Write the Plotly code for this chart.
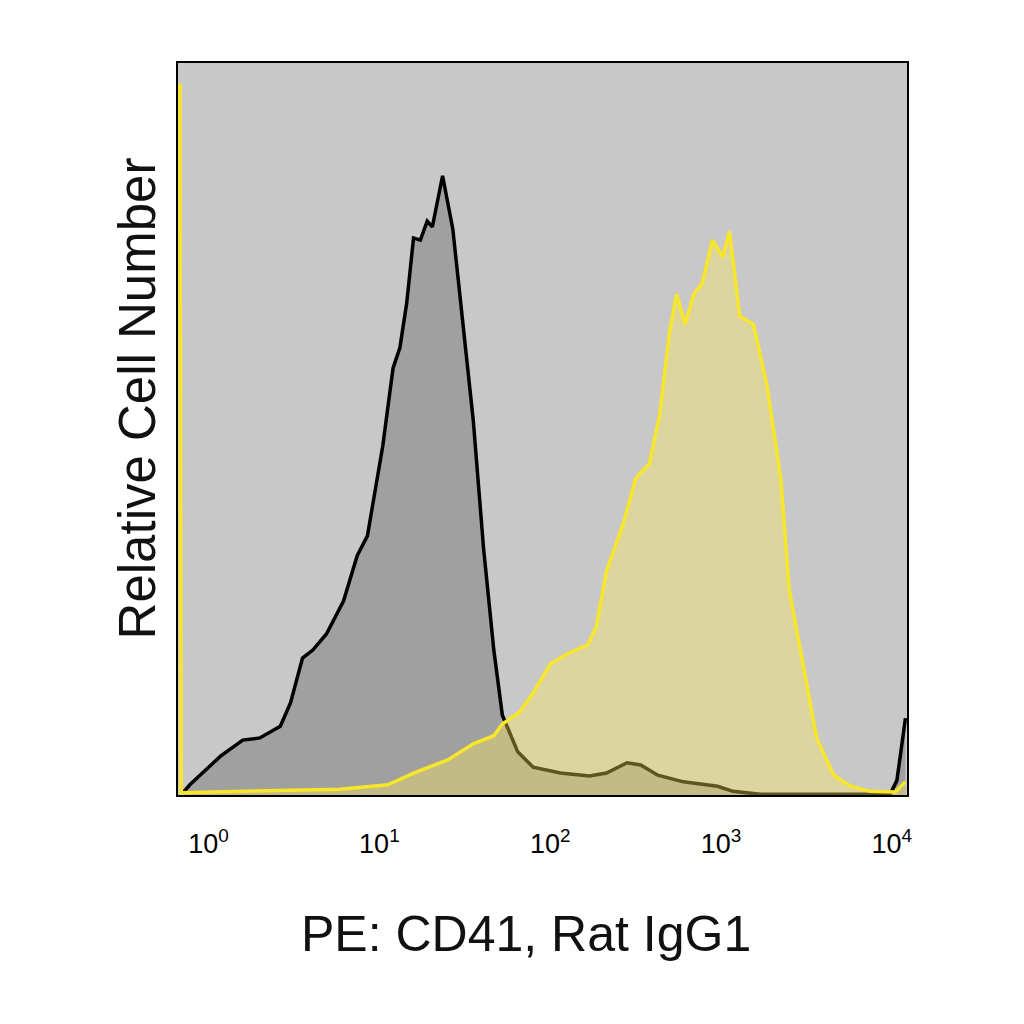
import plotly.graph_objects as go
import numpy as np

# log10 fluorescence positions and relative counts (% of axis height)
black_log = [-0.15, -0.11, 0.07, 0.20, 0.30, 0.42, 0.48, 0.55, 0.61, 0.69, 0.79, 0.87, 0.93,
             0.96, 1.02, 1.08, 1.12, 1.16, 1.20, 1.24, 1.28, 1.31, 1.37, 1.43, 1.49, 1.55,
             1.61, 1.67, 1.72, 1.81, 1.90, 2.06, 2.23, 2.33, 2.45, 2.53, 2.63, 2.78, 2.98,
             3.07, 3.23, 3.99, 4.03, 4.08]
black_count = [0.3, 1.4, 5.3, 7.5, 7.8, 9.4, 12.6, 18.7, 19.8, 22.0, 26.5, 32.7, 35.4,
               39.3, 47.7, 58.3, 61.1, 67.2, 76.1, 75.8, 78.4, 77.6, 84.6, 77.3, 64.5, 51.1,
               33.7, 19.8, 10.9, 5.9, 3.8, 3.0, 2.6, 3.0, 4.4, 4.1, 2.7, 1.8, 1.2,
               0.5, 0.1, 0.1, 2.0, 10.5]

yellow_log = [-0.176, -0.168, -0.16, 0.23, 0.50, 0.77, 1.05, 1.20, 1.40, 1.55, 1.67, 1.72,
              1.82, 1.90, 2.00, 2.10, 2.22, 2.27, 2.33, 2.43, 2.50, 2.54, 2.58, 2.64, 2.70,
              2.74, 2.79, 2.84, 2.89, 2.95, 3.01, 3.05, 3.11, 3.19, 3.27, 3.35, 3.40, 3.48,
              3.56, 3.66, 3.76, 3.87, 4.02, 4.08]
yellow_count = [97.0, 97.0, 0.3, 0.5, 0.6, 0.8, 1.4, 3.0, 4.8, 7.0, 8.1, 9.7,
                11.3, 13.9, 17.9, 19.3, 20.5, 23.0, 30.6, 37.2, 43.2, 44.3, 45.2, 51.8, 63.4,
                68.4, 64.3, 68.4, 69.9, 75.8, 73.5, 77.0, 65.4, 64.3, 55.9, 43.2, 28.0, 17.9,
                7.8, 2.7, 1.2, 0.5, 0.4, 1.8]

tick_vals = [1, 10, 100, 1000, 10000]
tick_text = ["10<sup>0</sup>", "10<sup>1</sup>", "10<sup>2</sup>", "10<sup>3</sup>", "10<sup>4</sup>"]

fig = go.Figure()

# isotype / control histogram
fig.add_trace(go.Scatter(
    x=np.power(10.0, black_log), y=black_count,
    mode='lines', fill='tozeroy',
    fillcolor='rgba(0,0,0,0.2)',
    line=dict(color='black', width=3.5),
    showlegend=False, hoverinfo='skip'
))

# CD41 stained histogram
fig.add_trace(go.Scatter(
    x=np.power(10.0, yellow_log), y=yellow_count,
    mode='lines', fill='tozeroy',
    fillcolor='rgba(255,235,90,0.36)',
    line=dict(color='#f7e62a', width=3.5),
    showlegend=False, hoverinfo='skip'
))

fig.update_layout(
    width=1024, height=1024,
    margin=dict(l=170, r=125, t=55, b=237),
    paper_bgcolor='white',
    plot_bgcolor='#c8c8c8',
    showlegend=False,
    font=dict(family='Liberation Sans, Arial, sans-serif', color='black'),
    annotations=[
        dict(
            text='PE: CD41, Rat IgG1',
            xref='paper', yref='paper',
            x=0.477, y=-0.19,
            xanchor='center', yanchor='middle',
            showarrow=False,
            font=dict(size=50, color='#111111')
        ),
        dict(
            text='Relative Cell Number',
            xref='paper', yref='paper',
            x=-0.056, y=0.542,
            xanchor='center', yanchor='middle',
            textangle=-90,
            showarrow=False,
            font=dict(size=51, color='#111111')
        )
    ]
)

fig.update_xaxes(
    type='log',
    range=[-0.179, 4.089],
    tickvals=tick_vals, ticktext=tick_text,
    ticks='outside', ticklen=24, tickcolor='rgba(0,0,0,0)',
    tickfont=dict(family='Liberation Sans, Arial, sans-serif', size=27, color='black'),
    showgrid=False, zeroline=False,
    showline=True, mirror=True, linecolor='black', linewidth=2
)

fig.update_yaxes(
    range=[0, 100],
    showticklabels=False, ticks='',
    showgrid=False, zeroline=False,
    showline=True, mirror=True, linecolor='black', linewidth=2
)

fig.write_html("out.html")
